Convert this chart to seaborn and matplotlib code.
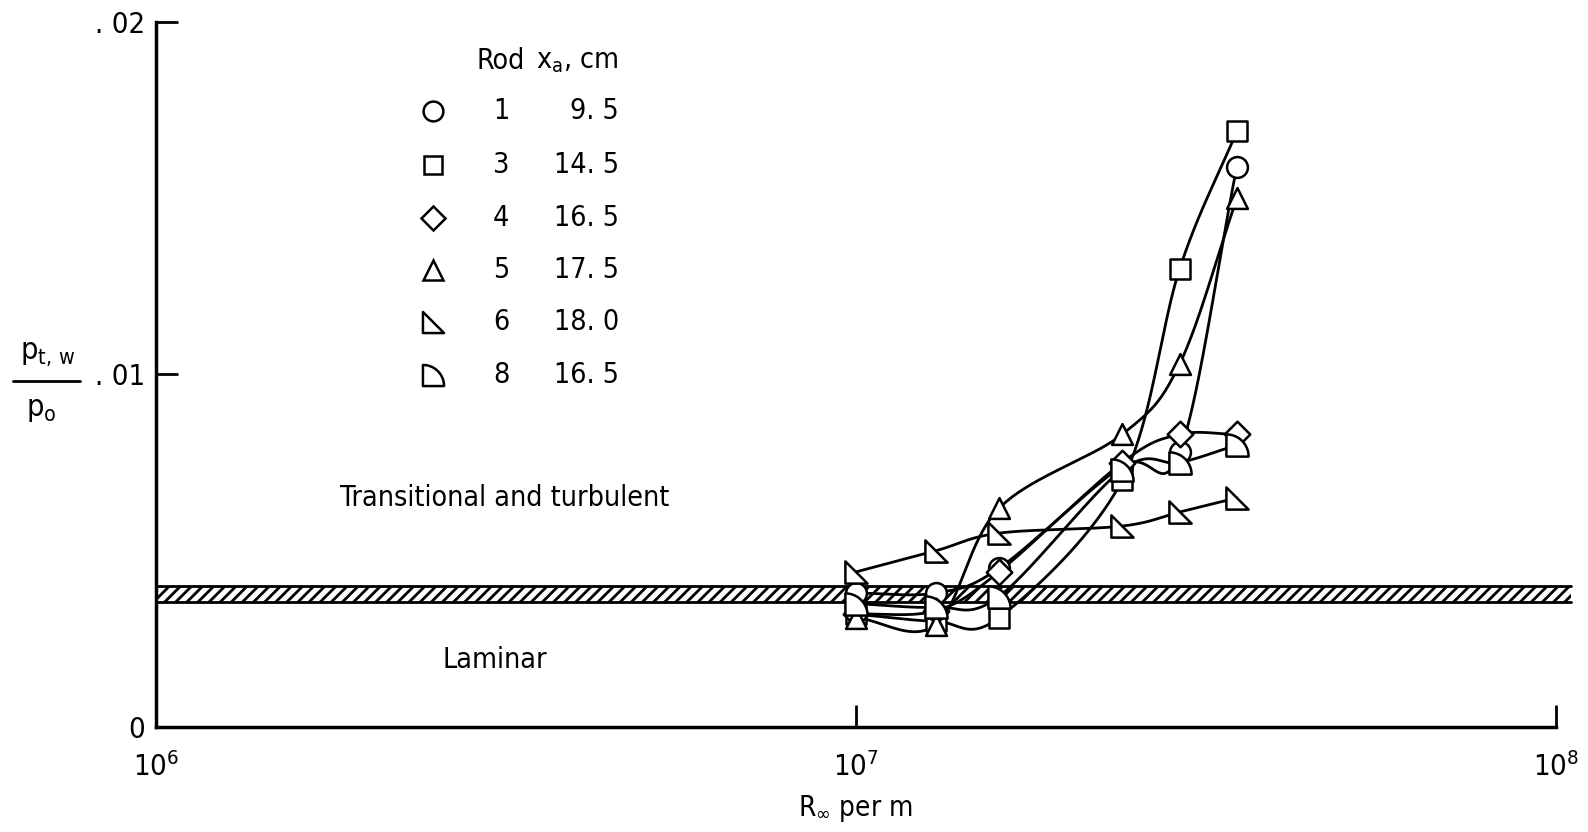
import numpy as np
import pandas as pd
import matplotlib
matplotlib.use("Agg")
import matplotlib.pyplot as plt
from matplotlib.path import Path
from matplotlib.lines import Line2D
import seaborn as sns

# ---------------- data ----------------
rods = ["1", "3", "4", "5", "6", "8"]
xa_cm = ["9.5", "14.5", "16.5", "17.5", "18.0", "16.5"]

R_rod1 = [1.0e7, 1.3e7, 1.6e7, 2.4e7, 2.9e7, 3.5e7]
p_rod1 = [0.0038, 0.0038, 0.0045, 0.0074, 0.0078, 0.0159]

R_rod3 = [1.0e7, 1.3e7, 1.6e7, 2.4e7, 2.9e7, 3.5e7]
p_rod3 = [0.0032, 0.0030, 0.0031, 0.0070, 0.0130, 0.0169]

R_rod4 = [1.0e7, 1.3e7, 1.6e7, 2.4e7, 2.9e7, 3.5e7]
p_rod4 = [0.0032, 0.0033, 0.0044, 0.0075, 0.0083, 0.0083]

R_rod5 = [1.0e7, 1.3e7, 1.6e7, 2.4e7, 2.9e7, 3.5e7]
p_rod5 = [0.0031, 0.0029, 0.0062, 0.0083, 0.0103, 0.0150]

R_rod6 = [1.0e7, 1.3e7, 1.6e7, 2.4e7, 2.9e7, 3.5e7]
p_rod6 = [0.0044, 0.0050, 0.0055, 0.0057, 0.0061, 0.0065]

R_rod8 = [1.0e7, 1.3e7, 1.6e7, 2.4e7, 2.9e7, 3.5e7]
p_rod8 = [0.0035, 0.0034, 0.0037, 0.0073, 0.0075, 0.0080]

band_low, band_high = 0.00355, 0.0040

series = {
    "1": (R_rod1, p_rod1),
    "3": (R_rod3, p_rod3),
    "4": (R_rod4, p_rod4),
    "5": (R_rod5, p_rod5),
    "6": (R_rod6, p_rod6),
    "8": (R_rod8, p_rod8),
}

rows = []
for rod, (R, p) in series.items():
    for r, v in zip(R, p):
        rows.append({"rod": rod, "R": r, "p": v})
df = pd.DataFrame(rows)

# ---------------- markers ----------------
right_tri = Path([(-1, -1), (-1, 1), (1, -1), (-1, -1)],
                 [Path.MOVETO, Path.LINETO, Path.LINETO, Path.CLOSEPOLY])
theta = np.linspace(np.pi / 2, 0, 20)
qverts = [(-1, -1), (-1, 1)] + [(-1 + 2 * np.cos(t), -1 + 2 * np.sin(t)) for t in theta[1:]] + [(-1, -1)]
quarter = Path(qverts, [Path.MOVETO] + [Path.LINETO] * (len(qverts) - 2) + [Path.CLOSEPOLY])

marker_map = {"1": "o", "3": "s", "4": "D", "5": "^", "6": right_tri, "8": quarter}
size_map = {"1": 15, "3": 14, "4": 13, "5": 15, "6": 16, "8": 16}


def catmull(xs, ys, n=40):
    lx = np.log10(np.asarray(xs, float))
    y = np.asarray(ys, float)
    P = np.column_stack([lx, y / 0.01])
    P = np.vstack([2 * P[0] - P[1], P, 2 * P[-1] - P[-2]])
    out = []
    for i in range(1, len(P) - 2):
        p0, p1, p2, p3 = P[i - 1], P[i], P[i + 1], P[i + 2]
        t = np.linspace(0, 1, n)[:, None]
        seg = 0.5 * ((2 * p1) + (-p0 + p2) * t + (2 * p0 - 5 * p1 + 4 * p2 - p3) * t ** 2
                     + (-p0 + 3 * p1 - 3 * p2 + p3) * t ** 3)
        out.append(seg)
    out = np.vstack(out)
    return 10 ** out[:, 0], out[:, 1] * 0.01


# ---------------- figure ----------------
sns.set_style("white")
plt.rcParams["font.family"] = ["DejaVu Sans"]
plt.rcParams["font.stretch"] = "condensed"
plt.rcParams["mathtext.default"] = "regular"
plt.rcParams["hatch.linewidth"] = 2.0
plt.rcParams["text.color"] = "black"
plt.rcParams["xtick.color"] = "black"
plt.rcParams["ytick.color"] = "black"

W, H = 1588, 832
fig = plt.figure(figsize=(W / 100, H / 100), dpi=100)
ax = fig.add_axes([156 / W, 1 - 727 / H, (1556 - 156) / W, (727 - 22) / H])
ax.set_xscale("log")
ax.set_xlim(1e6, 1e8)
ax.set_ylim(0, 0.02)

# hatched band
ax.fill_between([1e6, 1.05e8], band_low, band_high, facecolor="white",
                edgecolor="black", hatch="///", linewidth=0, clip_on=False, zorder=1)
ax.plot([1e6, 1.05e8], [band_low, band_low], color="black", lw=2.0, clip_on=False, zorder=2)
ax.plot([1e6, 1.05e8], [band_high, band_high], color="black", lw=2.0, clip_on=False, zorder=2)

# faired curves
for rod, (R, p) in series.items():
    sx, sy = catmull(R, p)
    cdf = pd.DataFrame({"R": sx, "p": sy})
    sns.lineplot(data=cdf, x="R", y="p", ax=ax, color="black", lw=2.0,
                 sort=False, estimator=None, zorder=3)

# markers
for rod in rods:
    sub = df[df.rod == rod]
    sns.scatterplot(data=sub, x="R", y="p", ax=ax, marker=marker_map[rod],
                    s=size_map[rod] ** 2, facecolor="white", edgecolor="black",
                    linewidth=1.8, zorder=5, legend=False)

# axes styling
for side in ["top", "right"]:
    ax.spines[side].set_visible(False)
for side in ["left", "bottom"]:
    ax.spines[side].set_linewidth(2.5)
    ax.spines[side].set_color("black")
ax.set_xticks([1e6, 1e7, 1e8])
ax.set_xticklabels([r"$10^6$", r"$10^7$", r"$10^8$"], fontsize=21)
ax.xaxis.set_minor_locator(matplotlib.ticker.NullLocator())
ax.set_yticks([0, 0.01, 0.02])
ax.set_yticklabels(["0", ". 01", ". 02"], fontsize=21)
ax.tick_params(axis="both", which="major", bottom=True, left=True, direction="in",
               length=16, width=2, color="black", labelcolor="black")
ax.tick_params(axis="y", pad=8)
ax.tick_params(axis="x", pad=18)
ax.set_xlabel("")
ax.set_ylabel("")

ax.text(3.15e6, 0.0065, "Transitional and turbulent", ha="center", va="center", fontsize=20.5)
ax.text(3.05e6, 0.0019, "Laminar", ha="center", va="center", fontsize=20.5)

# y label as a stacked fraction
fig.text(48 / W, 1 - 354 / H, r"p$_{t,\,w}$", ha="center", va="center", fontsize=22)
fig.text(41 / W, 1 - 410 / H, r"p$_o$", ha="center", va="center", fontsize=22)
fig.add_artist(Line2D([13 / W, 80 / W], [1 - 381 / H, 1 - 381 / H],
                      color="black", lw=2, transform=fig.transFigure))

fig.text(855 / W, 1 - 808 / H, r"R$_\infty$ per m", ha="center", va="center", fontsize=20)

# legend (manual, table style)
hdr_y = 1 - 61 / H
row_y = [1 - v / H for v in [111, 165, 218, 270, 322, 375]]
fig.text(501 / W, hdr_y, "Rod", ha="center", va="center", fontsize=20.5)
fig.text(536 / W, hdr_y, r"x$_a$, cm", ha="left", va="center", fontsize=20.5)
for rod, xa, yy in zip(rods, xa_cm, row_y):
    fig.add_artist(Line2D([433 / W], [yy], marker=marker_map[rod],
                          markersize=size_map[rod] * 0.95, markerfacecolor="white",
                          markeredgecolor="black", markeredgewidth=1.8,
                          linestyle="none", transform=fig.transFigure))
    fig.text(501 / W, yy, rod, ha="center", va="center", fontsize=20.5)
    fig.text(619 / W, yy, xa.replace(".", ". "), ha="right", va="center", fontsize=20.5)

fig.savefig("out.png", dpi=100)
